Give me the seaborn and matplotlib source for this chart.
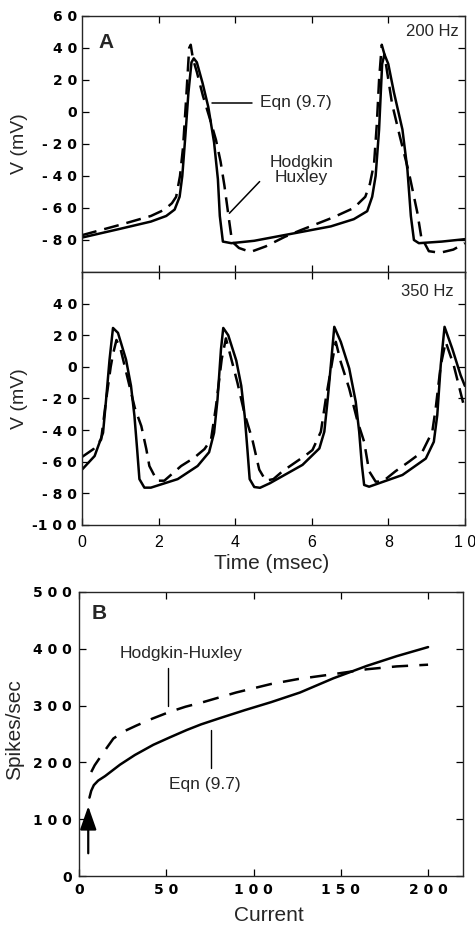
import numpy as np
import pandas as pd
import matplotlib
matplotlib.use("Agg")
import matplotlib.pyplot as plt
import seaborn as sns

# ---- data ----
# panel A, 200 Hz
t_200_eqn = [0.0, 1.0, 1.8, 2.2, 2.42, 2.55, 2.62, 2.7, 2.78, 2.86, 2.92, 3.0, 3.15, 3.3, 3.45,
             3.55, 3.6, 3.68, 3.9, 4.5, 5.5, 6.5, 7.1, 7.45, 7.58, 7.67, 7.76, 7.84, 7.9, 8.0,
             8.15, 8.37, 8.5, 8.59, 8.67, 8.8, 9.4, 10.0]
v_200_eqn = [-78.5, -73, -68.5, -65, -61, -53, -40, -15, 12, 31, 33.5, 31, 18, 3, -19,
             -42, -65, -81, -82, -80.5, -76, -71.5, -67, -62, -53, -40, -11, 30, 36, 30,
             12, -11, -36, -65, -80, -82, -81, -79.5]

t_200_hh = [0.0, 1.0, 1.8, 2.16, 2.35, 2.46, 2.56, 2.64, 2.72, 2.8, 2.84, 2.9, 3.0, 3.16, 3.35,
            3.5, 3.62, 3.72, 3.85, 3.92, 4.1, 4.4, 4.8, 5.3, 5.7, 6.55, 7.1, 7.4, 7.52, 7.63,
            7.7, 7.76, 7.83, 7.9, 8.1, 8.3, 8.54, 8.76, 8.86, 9.06, 9.35, 9.7, 10.0]
v_200_hh = [-77, -70.5, -65, -61, -57, -53, -40, -22, 8, 40, 42, 33, 25, 10, -5,
            -17.5, -31, -46, -69, -81, -85, -87.5, -84, -78, -74, -66, -60, -53, -45, -32,
            -8, 20, 42, 36, 5, -15, -38, -63, -78, -87, -88, -86, -82]

# panel A, 350 Hz
t_350_eqn = [0.0, 0.33, 0.55, 0.63, 0.72, 0.81, 0.94, 1.15, 1.28, 1.37, 1.44, 1.5, 1.63, 1.8,
             2.5, 3.02, 3.32, 3.45, 3.54, 3.63, 3.69, 3.82, 4.03, 4.16, 4.25, 4.32, 4.38, 4.5,
             4.65, 4.9, 5.76, 6.2, 6.33, 6.42, 6.5, 6.59, 6.76, 6.98, 7.15, 7.24, 7.31, 7.37,
             7.5, 8.37, 8.98, 9.19, 9.28, 9.37, 9.47, 9.67, 9.89, 10.0]
v_350_eqn = [-65, -56.4, -41.7, -20.6, 4.6, 24.6, 21.5, 4.6, -12, -31, -52, -71, -76.4, -76.4,
             -71, -62.7, -54, -41.7, -20.6, 11, 24.6, 20, 4, -12, -31, -52, -71, -76,
             -76.5, -73.7, -62, -51.6, -41, -20, 1, 25.3, 15.8, -1, -22, -41, -62, -74.7,
             -75.8, -68.4, -58, -47.4, -30.5, 1, 25.3, 11.6, -5.3, -12]

t_350_hh = [0.0, 0.3, 0.5, 0.63, 0.75, 0.81, 0.9, 1.0, 1.2, 1.38, 1.55, 1.68, 1.76, 1.96,
            2.15, 2.59, 2.93, 3.2, 3.37, 3.5, 3.65, 3.76, 3.9, 4.06, 4.25, 4.45, 4.63, 4.8,
            5.0, 5.24, 5.85, 6.02, 6.24, 6.37, 6.55, 6.63, 6.76, 6.98, 7.2, 7.37, 7.5, 7.67,
            7.85, 8.19, 8.54, 8.89, 9.15, 9.24, 9.37, 9.5, 9.71, 10.0]
v_350_hh = [-57, -52, -46, -21, 0, 8, 17, 12, -8, -26, -37.5, -52, -62.7, -72,
            -72, -62.7, -57.5, -52, -46, -25, 5, 18, 5, -10, -30, -46, -65, -72,
            -71, -66, -55.8, -52.6, -41, -20, 5.3, 15.8, 3, -13.7, -34.7, -47.4, -66, -72.6,
            -72.6, -66, -60, -53.7, -41, -26, 1, 15.8, 1, -27]

# panel B, firing rate vs current
i_eqn = [6, 7, 8.5, 11, 15, 23.5, 32, 42.6, 52, 61.7, 70, 80.8, 95, 110, 126.6, 145.7, 165, 182, 200]
f_eqn = [138, 150, 160, 168, 176, 196, 213, 231, 244, 257, 267, 278, 292, 306, 323, 348, 370, 387, 403]

i_hh = [7, 9, 13, 19.7, 26, 33, 42, 52, 61, 71, 90, 110, 126, 145, 165, 182, 200]
f_hh = [183, 195, 213, 242, 255, 265, 277, 289, 298, 306, 323, 338, 347, 355, 364, 369, 372]

# ---- style ----
sns.set_style("ticks")
plt.rcParams['font.family'] = ['Liberation Sans', 'DejaVu Sans']
plt.rcParams['axes.linewidth'] = 1.0

fig = plt.figure(figsize=(4.75, 9.27), dpi=100)
ax1 = fig.add_axes([0.1726, 0.7066, 0.806, 0.2762])
ax2 = fig.add_axes([0.1726, 0.4337, 0.806, 0.2729])
ax3 = fig.add_axes([0.1663, 0.0550, 0.8084, 0.3064])

LW = 1.8
dash_a = (0, (6, 3.2))
dash_b = (0, (6.5, 4.5))
tick_font = dict(fontsize=10, fontweight='bold', family='DejaVu Sans')
line_kw = dict(color='black', lw=LW, sort=False, estimator=None,
               solid_joinstyle='round', dash_joinstyle='round')


def spaced(v):
    # the scanned figure prints digits letter-spaced
    s = str(int(v))
    if s.startswith('-'):
        body = ' '.join(s[1:])
        return ('- ' if len(body) < 5 else '-') + body
    return ' '.join(s)


df = pd.DataFrame({"t": t_200_eqn, "v": v_200_eqn})
sns.lineplot(data=df, x="t", y="v", ax=ax1, **line_kw)
df = pd.DataFrame({"t": t_200_hh, "v": v_200_hh})
sns.lineplot(data=df, x="t", y="v", ax=ax1, linestyle=dash_a, **line_kw)

df = pd.DataFrame({"t": t_350_eqn, "v": v_350_eqn})
sns.lineplot(data=df, x="t", y="v", ax=ax2, **line_kw)
df = pd.DataFrame({"t": t_350_hh, "v": v_350_hh})
sns.lineplot(data=df, x="t", y="v", ax=ax2, linestyle=dash_a, **line_kw)

df = pd.DataFrame({"i": i_eqn, "f": f_eqn})
sns.lineplot(data=df, x="i", y="f", ax=ax3, **line_kw)
df = pd.DataFrame({"i": i_hh, "f": f_hh})
sns.lineplot(data=df, x="i", y="f", ax=ax3, linestyle=dash_b, **line_kw)

# ---- panel A axes ----
for ax in (ax1, ax2):
    ax.set_xlim(0, 10)
    ax.set_ylim(-100, 60)
    ax.set_xticks([2, 4, 6, 8])
    ax.tick_params(direction='in', top=True, right=True, length=5, width=0.9, colors='black')
    ax.set_ylabel("V (mV)", fontsize=14)
    ax.yaxis.set_label_coords(-0.14, 0.5)

ax1.set_yticks(np.arange(-80, 61, 20))
ax1.set_yticklabels([spaced(v) for v in np.arange(-80, 61, 20)], **tick_font)
ax1.set_xticklabels([])
ax1.set_xlabel("")
ax1.tick_params(axis='y', pad=3.6)

ax2.set_xticks([0, 2, 4, 6, 8, 10])
ax2.set_xticklabels(['0', '2', '4', '6', '8', '1 0'], fontsize=11.5)
ax2.set_yticks(np.arange(-100, 41, 20))
ax2.set_yticklabels([spaced(v) for v in np.arange(-100, 41, 20)], **tick_font)
ax2.tick_params(axis='y', pad=3.6)
ax2.tick_params(axis='x', pad=7.5)
ax2.set_xlabel("Time (msec)", fontsize=15)
ax2.xaxis.set_label_coords(0.496, -0.115)

ax1.text(0.42, 43.5, "A", fontsize=15, fontweight='bold', va='center', ha='left')
ax1.text(9.84, 50, "200 Hz", fontsize=12, va='center', ha='right')
ax2.text(9.71, 47.4, "350 Hz", fontsize=12, va='center', ha='right')

ax1.plot([3.39, 4.43], [5.6, 5.6], color='black', lw=1.1)
ax1.text(4.64, 5.6, "Eqn (9.7)", fontsize=12.5, va='center', ha='left')
ax1.plot([4.64, 3.85], [-43.5, -63.3], color='black', lw=1.1)
ax1.text(5.73, -36, "Hodgkin\nHuxley", fontsize=12.5, va='center', ha='center',
         multialignment='center', linespacing=1.0)

# ---- panel B axes ----
ax3.set_xlim(0, 220)
ax3.set_ylim(0, 500)
ax3.set_xticks([0, 50, 100, 150, 200])
ax3.set_xticklabels([spaced(v) for v in [0, 50, 100, 150, 200]], **tick_font)
ax3.set_yticks(np.arange(0, 501, 100))
ax3.set_yticklabels([spaced(v) for v in np.arange(0, 501, 100)], **tick_font)
ax3.tick_params(direction='in', top=True, right=True, length=5, width=0.9, colors='black', pad=5)
ax3.set_xlabel("Current", fontsize=15)
ax3.xaxis.set_label_coords(0.495, -0.106)
ax3.set_ylabel("Spikes/sec", fontsize=15)
ax3.yaxis.set_label_coords(-0.143, 0.514)

ax3.text(7.4, 462, "B", fontsize=15, fontweight='bold', va='center', ha='left')
ax3.text(58.5, 392, "Hodgkin-Huxley", fontsize=12.5, va='center', ha='center')
ax3.plot([50.8, 50.8], [367, 300], color='black', lw=1.0)
ax3.text(72, 161, "Eqn (9.7)", fontsize=12.5, va='center', ha='center')
ax3.plot([75.6, 75.6], [257, 190], color='black', lw=1.0)
ax3.annotate("", xy=(5.3, 123), xytext=(5.3, 40),
             arrowprops=dict(arrowstyle="-|>,head_length=0.8,head_width=0.28",
                             color='black', lw=1.6, mutation_scale=18, shrinkA=0, shrinkB=0))

fig.savefig("out.png", dpi=100)
